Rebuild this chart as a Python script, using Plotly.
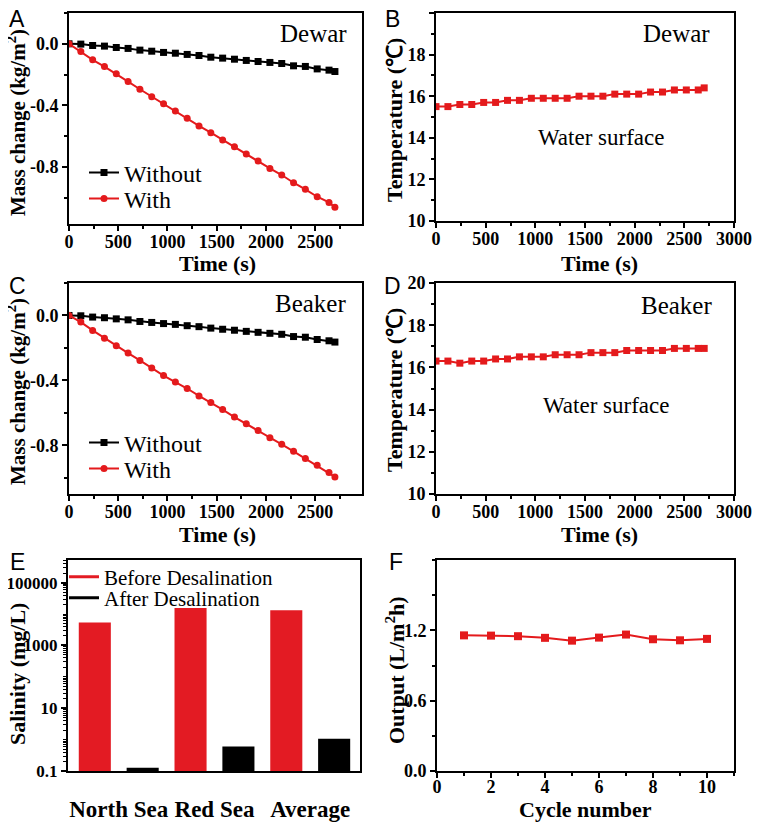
import plotly.graph_objects as go

# ---------------- data ----------------
time_s = [0, 120, 240, 360, 480, 600, 720, 840, 960, 1080, 1200, 1320,
          1440, 1560, 1680, 1800, 1920, 2040, 2160, 2280, 2400, 2520, 2640, 2700]

dewar_without = [0, -0.002, -0.011, -0.015, -0.024, -0.030, -0.041, -0.048, -0.056, -0.061,
                 -0.069, -0.076, -0.087, -0.093, -0.100, -0.108, -0.115, -0.121, -0.128,
                 -0.143, -0.147, -0.163, -0.171, -0.180]
dewar_with = [0, -0.05, -0.104, -0.148, -0.195, -0.245, -0.295, -0.343, -0.39, -0.436,
              -0.483, -0.533, -0.577, -0.624, -0.668, -0.715, -0.761, -0.809, -0.852,
              -0.902, -0.945, -0.993, -1.03, -1.062]

beaker_without = [0, -0.002, -0.010, -0.014, -0.021, -0.027, -0.037, -0.043, -0.050, -0.055,
                  -0.063, -0.069, -0.078, -0.085, -0.091, -0.098, -0.104, -0.110, -0.116,
                  -0.130, -0.134, -0.148, -0.156, -0.164]
beaker_with = [0, -0.041, -0.092, -0.14, -0.187, -0.232, -0.277, -0.324, -0.37, -0.41,
               -0.45, -0.496, -0.537, -0.58, -0.626, -0.667, -0.708, -0.753, -0.794,
               -0.837, -0.882, -0.923, -0.968, -0.995]

temp_dewar = [15.5, 15.5, 15.6, 15.6, 15.7, 15.7, 15.8, 15.8, 15.9, 15.9, 15.9, 15.9,
              16.0, 16.0, 16.0, 16.1, 16.1, 16.1, 16.2, 16.2, 16.3, 16.3, 16.3, 16.4]
temp_beaker = [16.3, 16.3, 16.2, 16.3, 16.3, 16.4, 16.4, 16.5, 16.5, 16.5, 16.6, 16.6,
               16.6, 16.7, 16.7, 16.7, 16.8, 16.8, 16.8, 16.8, 16.9, 16.9, 16.9, 16.9]

sites = ["North Sea", "Red Sea", "Average"]
salinity_before = [5400, 15500, 13100]
salinity_after = [0.128, 0.60, 1.07]

cycles = [1, 2, 3, 4, 5, 6, 7, 8, 9, 10]
output_rate = [1.157, 1.155, 1.150, 1.136, 1.112, 1.138, 1.164, 1.124, 1.115, 1.127]

time_ticks = [0, 500, 1000, 1500, 2000, 2500, 3000]
mass_ticks = [-0.8, -0.4, 0.0]
mass_ticktext = ["-0.8", "-0.4", "0.0"]
temp_ticks = [10, 12, 14, 16, 18, 20]
sal_ticks = [0.1, 10, 1000, 100000]
sal_ticktext = ["0.1", "10", "1000", "100000"]
out_ticks = [0.0, 0.6, 1.2]
out_ticktext = ["0.0", "0.6", "1.2"]
cycle_ticks = [0, 2, 4, 6, 8, 10]

# ---------------- style ----------------
SERIF = "Liberation Serif, Times New Roman, serif"
SANS = "Liberation Sans, Arial, sans-serif"
RED = "#e41a1c"
BARRED = "#e31b23"
# page body has an 8px margin; the figure fills the rest of the 762x823 window
OFF = 8
W, H = 762 - OFF, 823 - OFF


def px_x(x):
    return (x - OFF) / W


def px_y(y):
    return 1 - (y - OFF) / H


def axis(domain, anchor, **kw):
    d = dict(domain=domain, anchor=anchor, showline=True, linecolor="black", linewidth=2,
             mirror=True, ticks="outside", ticklen=5, tickwidth=1.5, tickcolor="black",
             showgrid=False, zeroline=False, automargin=False, tickangle=0,
             tickfont=dict(family=SERIF, size=18, color="black", weight="bold"))
    d.update(kw)
    return d


def minor(dt, **kw):
    m = dict(dtick=dt, ticklen=3, tickwidth=1.5, ticks="outside", tickcolor="black")
    m.update(kw)
    return m


fig = go.Figure()

# Panel A
fig.add_trace(go.Scatter(x=time_s, y=dewar_without, mode="lines+markers", name="Without",
                         line=dict(color="black", width=2), marker=dict(symbol="square", size=7),
                         xaxis="x", yaxis="y", legend="legend"))
fig.add_trace(go.Scatter(x=time_s, y=dewar_with, mode="lines+markers", name="With",
                         line=dict(color=RED, width=2), marker=dict(symbol="circle", size=7),
                         xaxis="x", yaxis="y", legend="legend2"))
# Panel B
fig.add_trace(go.Scatter(x=time_s, y=temp_dewar, mode="lines+markers", showlegend=False,
                         line=dict(color=RED, width=2), marker=dict(symbol="square", size=7),
                         xaxis="x2", yaxis="y2"))
# Panel C
fig.add_trace(go.Scatter(x=time_s, y=beaker_without, mode="lines+markers", name="Without",
                         line=dict(color="black", width=2), marker=dict(symbol="square", size=7),
                         xaxis="x3", yaxis="y3", legend="legend3"))
fig.add_trace(go.Scatter(x=time_s, y=beaker_with, mode="lines+markers", name="With",
                         line=dict(color=RED, width=2), marker=dict(symbol="circle", size=7),
                         xaxis="x3", yaxis="y3", legend="legend4"))
# Panel D
fig.add_trace(go.Scatter(x=time_s, y=temp_beaker, mode="lines+markers", showlegend=False,
                         line=dict(color=RED, width=2), marker=dict(symbol="square", size=7),
                         xaxis="x4", yaxis="y4"))
# Panel E
x_before = [2 * i for i in range(len(sites))]
x_after = [2 * i + 1 for i in range(len(sites))]
x_center = [2 * i + 0.5 for i in range(len(sites))]
fig.add_trace(go.Bar(x=x_before, y=salinity_before, width=0.67,
                     marker=dict(color=BARRED, line=dict(width=0)),
                     showlegend=False, xaxis="x5", yaxis="y5"))
fig.add_trace(go.Bar(x=x_after, y=salinity_after, width=0.67,
                     marker=dict(color="black", line=dict(width=0)),
                     showlegend=False, xaxis="x5", yaxis="y5"))
fig.add_trace(go.Scatter(x=[None], y=[None], mode="lines", name="Before Desalination",
                         line=dict(color=BARRED, width=3), xaxis="x5", yaxis="y5", legend="legend5"))
fig.add_trace(go.Scatter(x=[None], y=[None], mode="lines", name="After Desalination",
                         line=dict(color="black", width=3), xaxis="x5", yaxis="y5", legend="legend6"))
# Panel F
fig.add_trace(go.Scatter(x=cycles, y=output_rate, mode="lines+markers", showlegend=False,
                         line=dict(color=RED, width=2), marker=dict(symbol="square", size=8),
                         xaxis="x6", yaxis="y6"))

xa = [px_x(69), px_x(362)]
xb = [px_x(436), px_x(734)]
ya_row1 = [px_y(224), px_y(13)]
yb_row1 = [px_y(221), px_y(13)]
y_row2 = [px_y(494), px_y(283)]
y_row3 = [px_y(771), px_y(560)]


def leg(x, y, size):
    return dict(x=px_x(x), y=px_y(y), xanchor="left", yanchor="middle", bgcolor="rgba(0,0,0,0)",
                borderwidth=0, font=dict(family=SERIF, size=size, color="black"),
                tracegroupgap=0, itemwidth=30)


XSO = -5  # pull x tick labels a little closer to the axis

fig.update_layout(
    template="none",
    width=W, height=H, margin=dict(l=0, r=0, t=0, b=0, autoexpand=False),
    paper_bgcolor="white", plot_bgcolor="white", showlegend=True,
    xaxis=axis(xa, "y", range=[0, 2975], tickvals=time_ticks, minor=minor(250), ticklabelstandoff=XSO),
    yaxis=axis(ya_row1, "x", range=[-1.17, 0.2], tickvals=mass_ticks, ticktext=mass_ticktext,
               minor=minor(0.2, tick0=0)),
    xaxis2=axis(xb, "y2", range=[0, 3000], tickvals=time_ticks, minor=minor(250), ticklabelstandoff=XSO),
    yaxis2=axis(yb_row1, "x2", range=[10, 20], tickvals=temp_ticks, minor=minor(1)),
    xaxis3=axis(xa, "y3", range=[0, 2975], tickvals=time_ticks, minor=minor(250), ticklabelstandoff=XSO),
    yaxis3=axis(y_row2, "x3", range=[-1.1, 0.2], tickvals=mass_ticks, ticktext=mass_ticktext,
                minor=minor(0.2, tick0=0)),
    xaxis4=axis(xb, "y4", range=[0, 3000], tickvals=time_ticks, minor=minor(250), ticklabelstandoff=XSO),
    yaxis4=axis(y_row2, "x4", range=[10, 20], tickvals=temp_ticks, minor=minor(1)),
    xaxis5=axis([px_x(68), px_x(360)], "y5", range=[-0.56, 5.54], tickvals=x_center, ticktext=sites,
                ticks="", ticklabelstandoff=16,
                tickfont=dict(family=SERIF, size=23, color="black", weight="bold")),
    yaxis5=axis(y_row3, "x5", type="log", range=[-1, 5.72], tickvals=sal_ticks, ticktext=sal_ticktext,
                minor=minor("D1", tickwidth=1),
                tickfont=dict(family=SERIF, size=17, color="black", weight="bold")),
    xaxis6=axis([px_x(437), px_x(734)], "y6", range=[0, 11], tickvals=cycle_ticks, minor=minor(1),
                ticklabelstandoff=-7),
    yaxis6=axis(y_row3, "x6", range=[0, 1.8], tickvals=out_ticks, ticktext=out_ticktext,
                minor=minor(0.3)),
    legend=leg(84, 173, 24),
    legend2=leg(84, 199, 24),
    legend3=leg(84, 443, 24),
    legend4=leg(84, 469, 24),
    legend5=leg(64, 577, 21),
    legend6=leg(64, 598, 21),
)

annotations = []


def ann(text, x, y, size, family=SERIF, bold=False, angle=0, xanchor="center"):
    annotations.append(dict(text=text, x=px_x(x), y=px_y(y), xref="paper", yref="paper",
                            showarrow=False, textangle=angle, xanchor=xanchor, yanchor="middle",
                            font=dict(family=family, size=size, color="black",
                                      weight="bold" if bold else "normal")))


# panel letters (kept just inside the drawable area)
for letter, x, y in [("A", 17, 19), ("B", 392, 19), ("C", 17, 286), ("D", 392, 286),
                     ("E", 17, 562), ("F", 396, 562)]:
    ann(letter, x, y, 23, family=SANS)

# axis titles
ann("Time (s)", 217, 264, 22, bold=True)
ann("Time (s)", 599, 264, 22, bold=True)
ann("Time (s)", 217, 534, 22, bold=True)
ann("Time (s)", 599, 534, 22, bold=True)
ann("Cycle number", 585, 809, 22, bold=True)
ann("Mass change (kg/m<sup>2</sup>)", 17, 123, 21, bold=True, angle=-90)
ann("Mass change (kg/m<sup>2</sup>)", 17, 392, 21, bold=True, angle=-90)
ann("Temperature (\u2103)", 395, 120, 22, bold=True, angle=-90)
ann("Temperature (\u2103)", 395, 390, 22, bold=True, angle=-90)
ann("Salinity (mg/L)", 17, 674, 22, bold=True, angle=-90)
ann("Output (L/m<sup>2</sup>h)", 395, 670, 22, bold=True, angle=-90)

# in-panel labels
ann("Dewar", 313, 33, 25)
ann("Dewar", 676, 33, 25)
ann("Beaker", 310, 303, 25)
ann("Beaker", 676, 305, 25)
ann("Water surface", 601, 138, 23)
ann("Water surface", 606, 405, 23)

fig.update_layout(annotations=annotations)

fig.write_html("out.html")
